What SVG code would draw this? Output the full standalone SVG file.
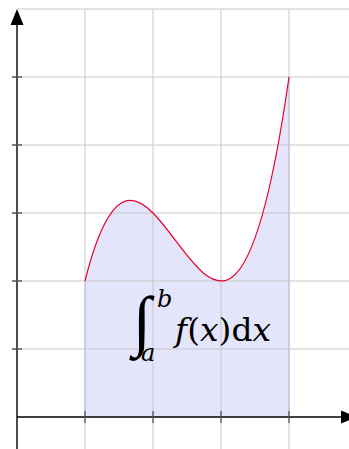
<svg xmlns="http://www.w3.org/2000/svg" width="349" height="449" viewBox="0 0 349 449">
<style>
.grid{stroke:#c8c8c8;stroke-width:1;fill:none}
.tick{stroke:#555;stroke-width:1.3}
.axis{stroke:#000;stroke-width:1.4;fill:none}
.m{font-family:"DejaVu Serif","Liberation Serif",serif;fill:#000}
.i{font-family:"Liberation Serif","DejaVu Serif",serif;fill:#000}
</style>
<rect width="349" height="449" fill="#fff"/>
<g id="fill-area">
<path d="M85,417 L85,281 C153,9 221,553 289,77 L289,417 Z" fill="#e4e4fb" stroke="none"/>
<line x1="85" y1="281" x2="85" y2="417" stroke="#a8aef2" stroke-width="1"/>
<line x1="289" y1="77" x2="289" y2="417" stroke="#a8aef2" stroke-width="1"/>
</g>
<g id="grid">
<path class="grid" d="M17,9H349M17,77H349M17,145H349M17,213H349M17,281H349M17,349H349M85,9V449M153,9V449M221,9V449M289,9V449"/>
</g>
<g id="curve">
<path d="M85,281 C153,9 221,553 289,77" fill="none" stroke="#e8002a" stroke-width="1.2"/>
</g>
<g id="axes">
<line class="axis" x1="17" y1="449" x2="17" y2="22"/>
<polygon points="17,9 10.5,25 23.5,25" fill="#000"/>
<line class="axis" x1="17" y1="417" x2="344" y2="417"/>
<polygon points="357,417 341,410.5 341,423.5" fill="#000"/>
<path class="tick" d="M12,77H22M12,145H22M12,213H22M12,281H22M12,349H22"/>
<path class="tick" d="M85,411V423M153,411V423M221,411V423M289,411V423" stroke="#000"/>
</g>
<g id="label">
<text class="i" font-size="67" font-style="italic" transform="translate(133,343)">∫</text>
<text class="m" x="157" y="307" font-size="24" font-style="italic">b</text>
<text class="m" x="141" y="361" font-size="24" font-style="italic">a</text>
<text class="m" x="175" y="341" font-size="31" textLength="96" lengthAdjust="spacingAndGlyphs"><tspan font-style="italic">f</tspan>(<tspan font-style="italic">x</tspan>)d<tspan font-style="italic">x</tspan></text>
</g>
</svg>
